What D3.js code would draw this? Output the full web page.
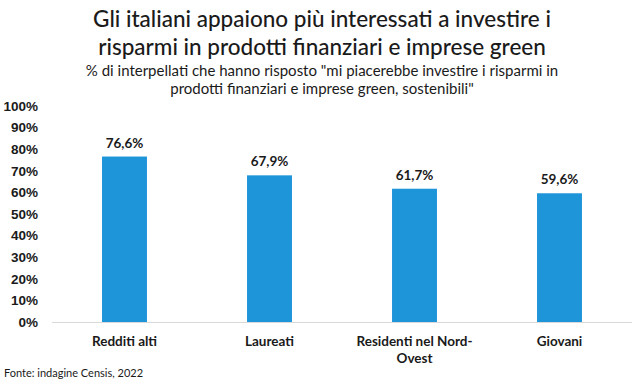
<!DOCTYPE html>
<html>
<head>
<meta charset="utf-8">
<style>
  body { margin: 0; background: white; font-family: Lato, "Noto Sans", sans-serif; }
  svg text { fill: #1a1a1a; }
  .title { font-size: 22.5px; font-weight: 500; }
  .subtitle { font-size: 15px; }
  .tick text { font-size: 13.5px; font-weight: 700; }
  .cat { font-size: 13.5px; font-weight: 700; }
  .val { font-size: 13.5px; font-weight: 700; }
  .src { font-size: 11px; }
</style>
</head>
<body>
<div id="chart"></div>
<script src="https://cdn.jsdelivr.net/npm/d3@7"></script>
<script>
const categories = ["Redditi alti", "Laureati", "Residenti nel Nord-|Ovest", "Giovani"];
const values = [76.6, 67.9, 61.7, 59.6];
const yTicks = [0, 10, 20, 30, 40, 50, 60, 70, 80, 90, 100];
const titleLines = ["Gli italiani appaiono più interessati a investire i", "risparmi in prodotti finanziari e imprese green"];
const subtitleLines = ["% di interpellati che hanno risposto \"mi piacerebbe investire i risparmi in", "prodotti finanziari e imprese green, sostenibili\""];
const source = "Fonte: indagine Censis, 2022";

const width = 643, height = 384;
const svg = d3.select("#chart").append("svg").attr("width", width).attr("height", height);

let x = d3.scaleBand().domain(categories).range([52, 632]).paddingInner(0.69).paddingOuter(0.345);
let y = d3.scaleLinear().domain([0, 100]).range([322, 106]);

// titles
svg.selectAll(".title").data(titleLines).enter().append("text")
  .attr("class", "title").attr("x", 322).attr("y", (d, i) => 27 + i * 27.5)
  .attr("text-anchor", "middle").text(d => d);
svg.selectAll(".subtitle").data(subtitleLines).enter().append("text")
  .attr("class", "subtitle").attr("x", 322).attr("y", (d, i) => 75.5 + i * 18.5)
  .attr("text-anchor", "middle").text(d => d);

// y axis
let yAxis = d3.axisLeft(y).tickValues(yTicks).tickFormat(d => d + "%").tickSize(0).tickPadding(0);
let gy = svg.append("g").attr("transform", "translate(38,0)").call(yAxis);
gy.select(".domain").remove();
gy.selectAll(".tick text").attr("fill", "#1a1a1a");

// bars
svg.selectAll(".bar").data(values).enter().append("rect")
  .attr("x", (d, i) => x(categories[i]))
  .attr("y", d => y(d))
  .attr("width", x.bandwidth())
  .attr("height", d => y(0) - y(d))
  .attr("fill", "#1f95d9");

svg.selectAll(".val").data(values).enter().append("text")
  .attr("class", "val")
  .attr("x", (d, i) => x(categories[i]) + x.bandwidth() / 2)
  .attr("y", d => y(d) - 9)
  .attr("text-anchor", "middle")
  .text(d => d.toFixed(1).replace(".", ",") + "%");

// x axis
let xAxis = d3.axisBottom(x).tickSize(0).tickFormat("");
let gx = svg.append("g").attr("transform", "translate(0,322)").call(xAxis);
gx.select(".domain").attr("stroke", "#d9d9d9").attr("d", "M52,0.5H632");

categories.forEach(c => {
  let t = svg.append("text").attr("class", "cat")
    .attr("x", x(c) + x.bandwidth() / 2).attr("y", 346).attr("text-anchor", "middle");
  c.split("|").forEach((line, j) => {
    t.append("tspan").attr("x", x(c) + x.bandwidth() / 2).attr("dy", j ? 17 : 0).text(line);
  });
});

svg.append("text").attr("class", "src").attr("x", 4).attr("y", 377).text(source);
</script>
</body>
</html>
